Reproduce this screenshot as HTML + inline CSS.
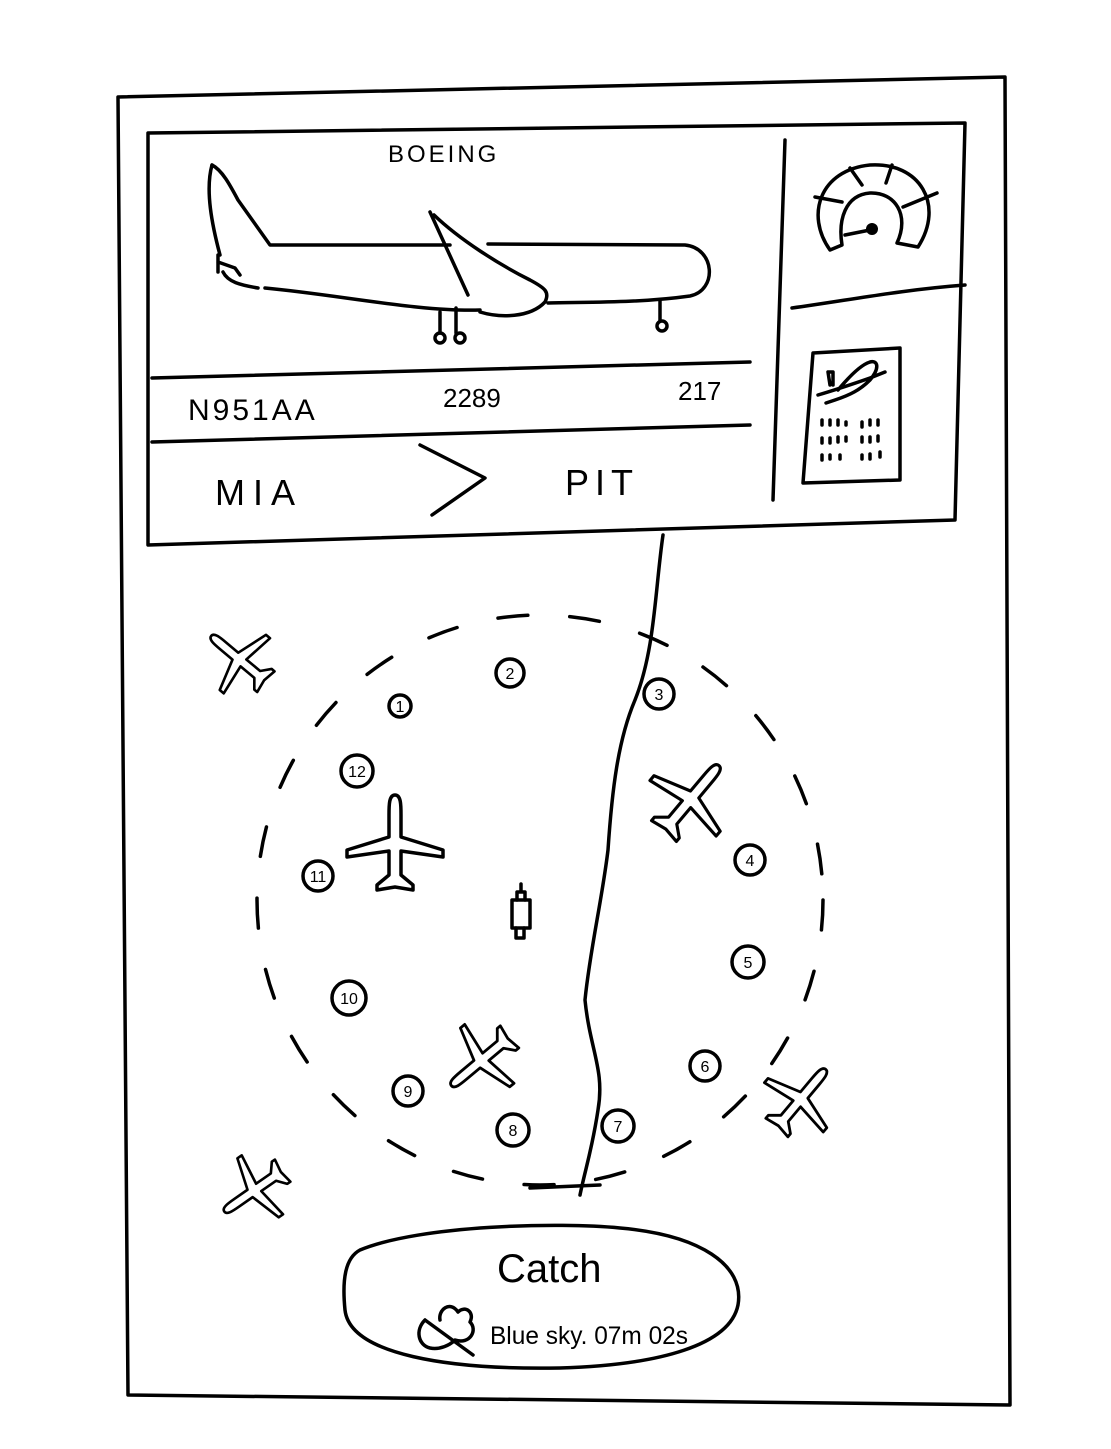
<!DOCTYPE html>
<html><head><meta charset="utf-8"><style>
html,body{margin:0;padding:0;background:#fff}
svg{display:block}
text{font-family:"Liberation Sans",sans-serif;fill:#000}
</style></head><body>
<svg width="1111" height="1449" viewBox="0 0 1111 1449" xmlns="http://www.w3.org/2000/svg">
<defs>
<path id="pl" d="M0,-50 C6,-50 6,-40 6,-30 L6,-8 L48,5 L48,12 L6,6 L6,30 L18,40 L18,45 L0,42 L-18,45 L-18,40 L-6,30 L-6,6 L-48,12 L-48,5 L-6,-8 L-6,-30 C-6,-40 -6,-50 0,-50 Z"/>
</defs>
<g fill="none" stroke="#000" stroke-width="3.5" stroke-linecap="round" stroke-linejoin="round">
<path d="M118,97 L1005,77 L1010,1405 L128,1395 Z"/>
<path d="M148,133 L965,123 L955,520 L148,545 Z"/>
<path d="M785,140 L773,500"/>
<path d="M152,378 L750,362"/>
<path d="M152,442 L750,425"/>
<path d="M792,308 C850,300 900,290 965,285"/>
<!-- side plane -->
<path d="M212,165 C205,190 212,225 220,255"/>
<path d="M212,165 C222,170 230,185 238,200 L270,245 L450,245"/>
<path d="M488,244 L685,245 C715,248 718,290 690,296 C640,303 590,302 548,303"/>
<path d="M223,272 C228,282 240,285 258,288"/>
<path d="M265,288 C340,295 420,312 480,310"/>
<path d="M430,212 L468,295"/>
<path d="M434,215 C460,240 500,265 530,280 C545,288 550,292 545,302 C530,318 500,318 480,312"/>
<path d="M218,262 L235,268 L240,275 M218,255 L218,272"/>
<path d="M440,312 L440,333 M456,308 L456,333 M660,300 L660,320"/>
<ellipse cx="440" cy="338" rx="5" ry="5"/><ellipse cx="460" cy="338" rx="5" ry="5"/><ellipse cx="662" cy="326" rx="5" ry="5"/>
<path d="M420,445 L485,478 L432,515"/>
<!-- gauge -->
<path d="M830,250 C805,215 820,170 870,165 C920,162 945,205 918,247 L897,243 C910,215 895,192 870,193 C845,195 838,220 842,245 Z"/>
<path d="M815,197 L842,202 M850,168 L862,185 M892,165 L886,183 M903,207 L937,193"/>
<path d="M845,235 L870,230"/>
<!-- card -->
<path d="M813,353 L900,348 L900,480 L803,483 Z"/>
<path d="M818,395 C835,390 850,385 870,378 L885,372 M830,385 L828,372 L833,372 L833,385 M826,403 L835,400 C850,395 860,390 870,380 C880,368 878,360 870,362 C860,365 848,378 838,390"/>
<path d="M822,420 l0,5 M830,420 l0,5 M838,420 l0,5 M846,422 l0,3 M862,422 l0,5 M870,420 l0,5 M878,420 l0,5 M822,438 l0,5 M830,438 l0,5 M838,437 l0,5 M846,437 l0,4 M862,437 l0,5 M870,437 l0,5 M878,436 l0,5 M822,455 l0,5 M830,455 l0,4 M840,455 l0,4 M862,455 l0,4 M870,454 l0,5 M880,452 l0,5"/>
<ellipse cx="540" cy="900" rx="283" ry="285" stroke-dasharray="30 42"/>
<path d="M663,535 C655,590 655,650 635,700 C618,740 612,790 608,850 C602,900 590,950 585,1000 C590,1050 605,1070 598,1110 C592,1150 585,1170 580,1195"/>
<path d="M530,1188 L600,1185"/>
<rect x="512" y="900" width="18" height="28"/><path d="M516,928 l0,10 l8,0 l0,-10 M517,900 l0,-8 l8,0 l0,8 M521,892 l0,-8"/>
<circle cx="400" cy="706" r="11"/><circle cx="510" cy="673" r="14"/><circle cx="659" cy="694" r="15"/>
<circle cx="357" cy="771" r="16"/><circle cx="318" cy="876" r="15"/><circle cx="750" cy="860" r="15"/>
<circle cx="748" cy="962" r="16"/><circle cx="349" cy="998" r="17"/><circle cx="705" cy="1066" r="15"/>
<circle cx="408" cy="1091" r="15"/><circle cx="513" cy="1130" r="16"/><circle cx="618" cy="1126" r="16"/>
<use href="#pl" transform="translate(240,660) rotate(-50) scale(0.75)"/>
<use href="#pl" transform="translate(395,845) scale(1)"/>
<use href="#pl" transform="translate(690,800) rotate(40) scale(0.9)"/>
<use href="#pl" transform="translate(482,1060) rotate(-130) scale(0.8)"/>
<use href="#pl" transform="translate(800,1100) rotate(40) scale(0.8)"/>
<use href="#pl" transform="translate(255,1190) rotate(-125) scale(0.75)"/>
<path d="M360,1250 C420,1225 560,1222 620,1228 C700,1235 745,1265 738,1305 C730,1345 660,1365 560,1368 C450,1370 350,1355 345,1310 C342,1280 345,1258 360,1250"/>
<path d="M425,1320 C415,1330 418,1345 430,1348 C440,1350 450,1345 455,1340 C470,1345 478,1330 470,1322 C475,1312 465,1305 458,1312 C450,1300 438,1310 440,1320 M425,1320 L473,1355"/>
</g>
<circle cx="872" cy="229" r="6" fill="#000"/>
<g stroke="none">
<text x="388" y="162" font-size="24" letter-spacing="3">BOEING</text>
<text x="188" y="420" font-size="30" letter-spacing="3">N951AA</text>
<text x="443" y="407" font-size="26">2289</text>
<text x="678" y="400" font-size="26">217</text>
<text x="215" y="505" font-size="36" letter-spacing="8">MIA</text>
<text x="565" y="495" font-size="36" letter-spacing="6">PIT</text>
<text x="497" y="1282" font-size="40">Catch</text>
<text x="490" y="1344" font-size="25" textLength="198" lengthAdjust="spacingAndGlyphs">Blue sky. 07m 02s</text>
<g font-size="16" text-anchor="middle">
<text x="400" y="712">1</text><text x="510" y="679">2</text><text x="659" y="700">3</text>
<text x="357" y="777">12</text><text x="318" y="882">11</text><text x="750" y="866">4</text>
<text x="748" y="968">5</text><text x="349" y="1004">10</text><text x="705" y="1072">6</text>
<text x="408" y="1097">9</text><text x="513" y="1136">8</text><text x="618" y="1132">7</text>
</g>
</g>
</svg>
</body></html>
